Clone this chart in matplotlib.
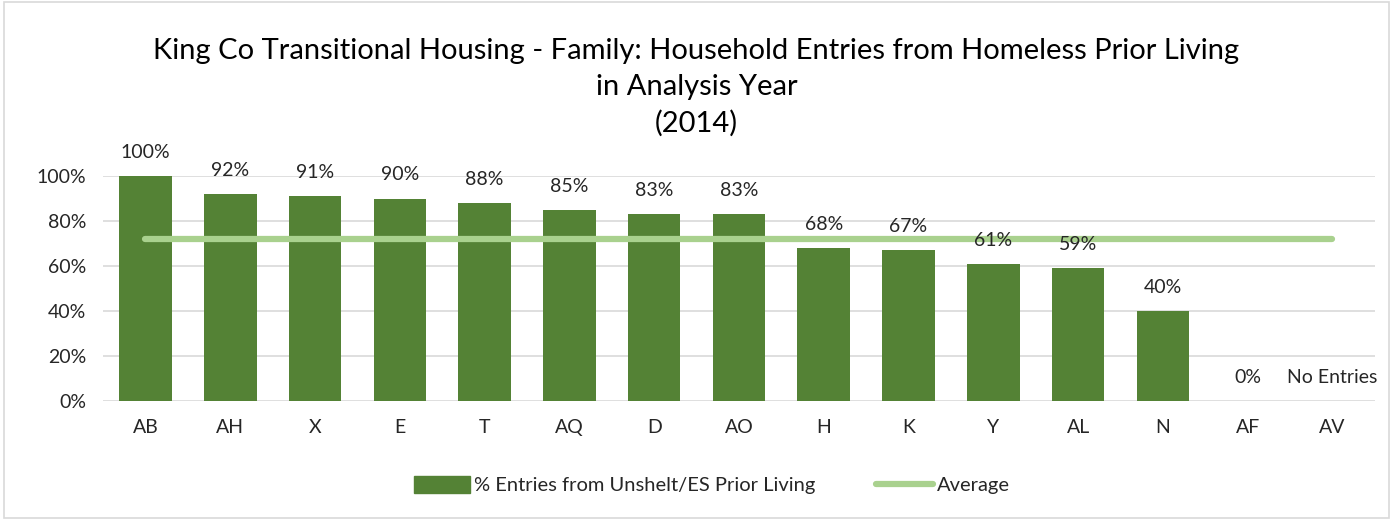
import matplotlib
matplotlib.use("Agg")
import matplotlib.pyplot as plt
from matplotlib.patches import Rectangle
from matplotlib.lines import Line2D
import numpy as np

# Chart data
programs = ["AB", "AH", "X", "E", "T", "AQ", "D", "AO", "H", "K", "Y", "AL", "N", "AF", "AV"]
pct_values = [1.00, 0.92, 0.91, 0.90, 0.88, 0.85, 0.83, 0.83, 0.68, 0.67, 0.61, 0.59, 0.40, 0.0, np.nan]
bar_labels = ["100%", "92%", "91%", "90%", "88%", "85%", "83%", "83%", "68%", "67%", "61%", "59%", "40%", "0%", "No Entries"]
average_value = 0.72
y_ticks = [0, 0.2, 0.4, 0.6, 0.8, 1.0]
y_tick_labels = ["0%", "20%", "40%", "60%", "80%", "100%"]

bar_color = "#548235"
avg_color = "#A9D18E"
text_color = "#262626"

plt.rcParams['font.family'] = ['Lato', 'DejaVu Sans']

fig = plt.figure(figsize=(13.93, 5.2), dpi=100)
ax = fig.add_axes([0.074, 0.229, 0.913, 0.4325])

x = np.arange(len(programs))
heights = [0 if np.isnan(v) else v for v in pct_values]
ax.bar(x, heights, width=0.62, color=bar_color, zorder=3)

# average line from first to last category
ax.plot([x[0], x[-1]], [average_value, average_value], color=avg_color,
        linewidth=4.5, solid_capstyle="round", zorder=4)

for xi, h, lab in zip(x, heights, bar_labels):
    ax.annotate(lab, (xi, h), xytext=(0, 17), textcoords="offset points",
                ha="center", va="center", fontsize=14, color=text_color, zorder=5)

ax.set_xlim(-0.5, len(programs) - 0.5)
ax.set_ylim(0, 1.0)
ax.set_yticks(y_ticks)
ax.set_yticklabels(y_tick_labels, fontsize=14, color=text_color)
ax.set_xticks(x)
ax.set_xticklabels(programs, fontsize=14, color=text_color)
ax.tick_params(axis="both", length=0)
ax.tick_params(axis="x", pad=13)
ax.tick_params(axis="y", pad=12)
ax.grid(axis="y", color="#D9D9D9", linewidth=1.2, zorder=0)
for s in ax.spines.values():
    s.set_visible(False)

fig.text(0.5, 0.832, "King Co Transitional Housing - Family: Household Entries from Homeless Prior Living\nin Analysis Year\n(2014)",
         ha="center", va="center", fontsize=21, color="black", linespacing=1.45)

legend_handles = [
    Rectangle((0, 0), 1, 1, color=bar_color),
    Line2D([0], [0], color=avg_color, linewidth=4.5, solid_capstyle="round"),
]
fig.legend(legend_handles, ["% Entries from Unshelt/ES Prior Living", "Average"],
           loc="center", bbox_to_anchor=(0.511, 0.067), ncol=2, frameon=False,
           fontsize=14.5, handlelength=2.8, handleheight=0.9, columnspacing=3.0,
           handletextpad=0.2, labelcolor=text_color)

# outer border
fig.patches.append(Rectangle((0.003, 0.004), 0.994, 0.992, transform=fig.transFigure,
                             fill=False, edgecolor="#D9D9D9", linewidth=1.2))

fig.savefig("out.png", dpi=100)
